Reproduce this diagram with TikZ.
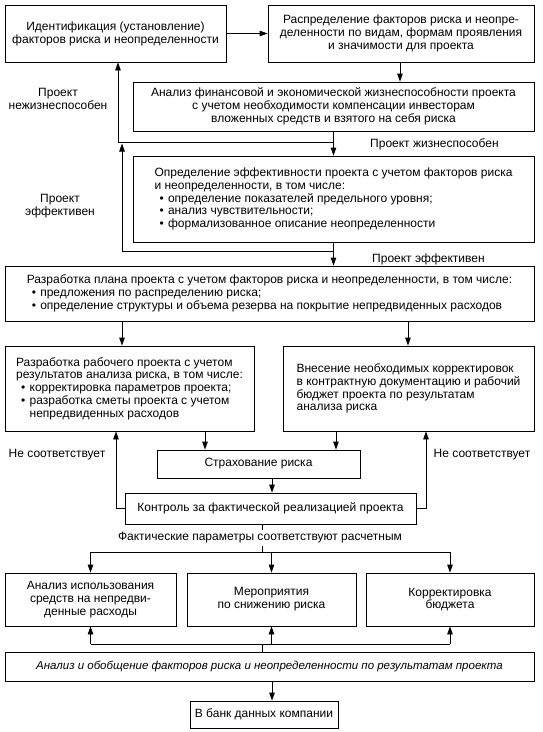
\documentclass[tikz,border=0pt]{standalone}
\usepackage{fontspec}
\setmainfont{Liberation Sans}
\usetikzlibrary{arrows.meta,calc}
\newcommand\fs{\fontsize{12}{12.8}\selectfont}
\newcommand\bl{\hspace*{5pt}\makebox[8.5pt][l]{\textbullet}}
\newcommand\cont{\hspace*{13.5pt}}
\newcommand\mkbox[7][]{%
  \node[box,#1,minimum width={#5-#3},minimum height={#6-#4}] (#2) at ({(#3+#5)/2},{(#4+#6)/2}) {#7};}
\begin{document}
\begin{tikzpicture}[x=1pt,y=-1pt,
  box/.style={draw,line width=0.8pt,inner sep=0pt,align=center,font=\fs},
  lbl/.style={inner sep=0pt,align=center,font=\fs},
  arr/.style={line width=0.8pt,-{Triangle[length=8pt,width=5.5pt]}},
  ln/.style={line width=0.8pt}]
\useasboundingbox (0,0) rectangle (542,732);

\mkbox{b1}{5}{5}{226}{62}{Идентификация (установление)\\факторов риска и неопределенности}
\mkbox{b2}{268}{5}{534}{62}{Распределение факторов риска и неопре-\\деленности по видам, формам проявления\\и значимости для проекта}
\mkbox{b3}{133}{82}{534}{131}{Анализ финансовой и экономической жизнеспособности проекта\\с учетом необходимости компенсации инвесторам\\вложенных средств и взятого на себя риска}
\mkbox[align=left]{b4}{133}{156}{534}{242}{Определение эффективности проекта с учетом факторов риска\\и неопределенности, в том числе:\\\bl определение показателей предельного уровня;\\\bl анализ чувствительности;\\\bl формализованное описание неопределенности}
\mkbox[align=left]{b5}{5}{266}{534}{321}{Разработка плана проекта с учетом факторов риска и неопределенности, в том числе:\\\bl предложения по распределению риска;\\\bl определение структуры и объема резерва на покрытие непредвиденных расходов}
\mkbox[align=left]{b6}{5}{346}{254}{431}{Разработка рабочего проекта с учетом\\результатов анализа риска, в том числе:\\\bl корректировка параметров проекта;\\\bl разработка сметы проекта с учетом\\\cont непредвиденных расходов}
\mkbox[align=left]{b7}{283}{346}{534}{431}{Внесение необходимых корректировок\\в контрактную документацию и рабочий\\бюджет проекта по результатам\\анализа риска}
\mkbox{b8}{157}{450}{360}{478}{Страхование риска}
\mkbox{b9}{125}{493}{416}{524}{Контроль за фактической реализацией проекта}
\mkbox{b10}{5}{573}{176}{626}{Анализ использования\\средств на непредви-\\денные расходы}
\mkbox{b11}{187}{573}{356}{626}{Мероприятия\\по снижению риска}
\mkbox{b12}{366}{573}{534}{626}{Корректировка\\бюджета}
\mkbox[font=\fontsize{11.5}{12.8}\selectfont\itshape]{b13}{5}{652}{534}{681}{Анализ и обобщение факторов риска и неопределенности по результатам проекта}
\mkbox{b14}{190}{701}{338}{728}{В банк данных компании}

\node[lbl] (l1) at (58,99) {Проект\\нежизнеспособен};
\node[lbl] (l2) at (60,206) {Проект\\эффективен};
\node[lbl,anchor=west] (l3) at (370,144) {Проект жизнеспособен};
\node[lbl,anchor=west] (l4) at (372,259) {Проект эффективен};
\node[lbl] (l5) at (57,455) {Не соответствует};
\node[lbl] (l6) at (482,455) {Не соответствует};
\node[lbl,inner sep=2pt] (l7) at (260,538) {Фактические параметры соответствуют расчетным};

\coordinate (xa) at (400,0);
\coordinate (xl1) at (118,0);
\coordinate (xl2) at (122,0);
\coordinate (xc) at (122,0);
\coordinate (xd) at (408,0);
\coordinate (xe) at (205,0);
\coordinate (xf) at (336,0);
\coordinate (xg) at (272,0);
\coordinate (xh) at (116,0);
\coordinate (xi) at (426,0);
\coordinate (xt) at (262,0);
\coordinate (yh1) at (0,552);
\coordinate (yh2) at (0,644);
\coordinate (j1) at (333.5,142);
\coordinate (j2) at (333.5,251);

\draw[arr] (b1) -- (b2);
\draw[arr] (xa |- b2.south) -- (xa |- b3.north);
\draw[arr] (b3) -- (b4);
\draw[arr] (j1) -| (xl1 |- b1.south);
\draw[arr] (b4.south) -- (b4.south |- b5.north);
\draw[arr] (j2) -| ($(xl2 |- j1)+(0,1.5)$);
\draw[arr] (xc |- b5.south) -- (xc |- b6.north);
\draw[arr] (xd |- b5.south) -- (xd |- b7.north);
\draw[arr] (xe |- b6.south) -- (xe |- b8.north);
\draw[arr] (xf |- b7.south) -- (xf |- b8.north);
\draw[arr] (xg |- b8.south) -- (xg |- b9.north);
\draw[arr] (b9.west) -| (xh |- b6.south);
\draw[arr] (b9.east) -| (xi |- b7.south);
\draw[ln] (xt |- b9.south) -- (xt |- l7.north);
\draw[ln] (xt |- l7.south) -- (xt |- yh1);
\draw[ln] (b10 |- yh1) -- (b12 |- yh1);
\draw[arr] (b10 |- yh1) -- (b10.north);
\draw[arr] (b11 |- yh1) -- (b11.north);
\draw[arr] (b12 |- yh1) -- (b12.north);
\draw[ln] (xt |- b13.north) -- (xt |- yh2);
\draw[ln] (b10 |- yh2) -- (b12 |- yh2);
\draw[arr] (b10 |- yh2) -- (b10.south);
\draw[arr] (b11 |- yh2) -- (b11.south);
\draw[arr] (b12 |- yh2) -- (b12.south);
\draw[arr] (xg |- b13.south) -- (xg |- b14.north);
\end{tikzpicture}
\end{document}
